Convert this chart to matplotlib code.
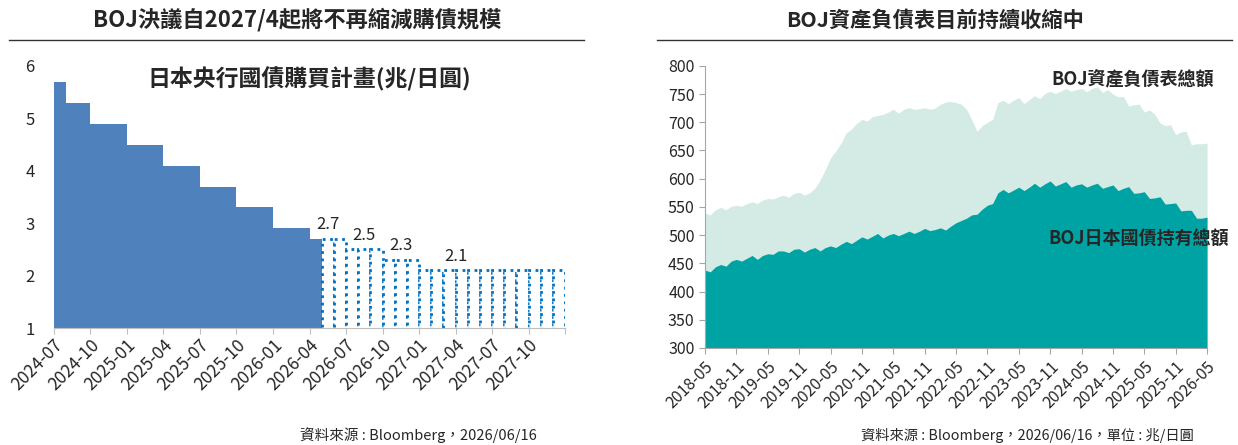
import matplotlib
matplotlib.use("Agg")
import matplotlib.pyplot as plt
import numpy as np

plt.rcParams['font.family'] = ['Noto Sans CJK TC', 'DejaVu Sans']

# ---- left chart data: BOJ monthly JGB purchase plan (trillion yen)
plan_values = ([5.7] + [5.3] * 2 + [4.9] * 3 + [4.5] * 3 + [4.1] * 3 + [3.7] * 3
               + [3.3] * 3 + [2.9] * 3 + [2.7] * 3 + [2.5] * 3 + [2.3] * 3 + [2.1] * 12)
n_actual = 22  # months already executed (solid bars)
plan_ticks = ['2024-07', '2024-10', '2025-01', '2025-04', '2025-07', '2025-10', '2026-01',
              '2026-04', '2026-07', '2026-10', '2027-01', '2027-04', '2027-07', '2027-10']
plan_labels = ['2.7', '2.5', '2.3', '2.1']
plan_label_pos = [22.5, 25.5, 28.5, 33]

# ---- right chart data: BOJ balance sheet vs JGB holdings (trillion yen), 2018-05 .. 2026-05
bs_total = [539, 536, 545, 549, 545, 551, 553, 551, 556, 559, 556, 562, 565, 564, 568, 571,
            567, 574, 576, 571, 575, 583, 598, 616, 637, 649, 663, 681, 688, 698, 705, 702,
            710, 712, 714, 718, 723, 716, 723, 726, 723, 724, 726, 723, 725, 732, 736, 737,
            735, 732, 723, 705, 684, 694, 700, 705, 735, 739, 733, 739, 744, 733, 740, 747,
            742, 751, 755, 751, 755, 760, 755, 758, 760, 754, 760, 763, 753, 758, 750, 745,
            746, 729, 731, 732, 718, 722, 714, 699, 694, 696, 678, 683, 684, 660, 662, 662, 663]
jgb_hold = [438, 435, 444, 448, 445, 454, 457, 454, 459, 464, 457, 464, 467, 466, 472, 472,
            469, 475, 476, 470, 475, 478, 472, 478, 481, 478, 484, 489, 485, 491, 497, 493,
            498, 503, 495, 500, 503, 499, 503, 507, 503, 507, 512, 508, 510, 513, 509, 516,
            522, 526, 530, 536, 537, 546, 553, 556, 575, 581, 575, 580, 585, 579, 585, 592,
            585, 591, 596, 587, 591, 595, 585, 589, 591, 585, 589, 592, 583, 586, 589, 579,
            583, 586, 574, 575, 577, 565, 566, 568, 555, 556, 557, 543, 544, 544, 530, 530, 532]
bs_ticks = ['2018-05', '2018-11', '2019-05', '2019-11', '2020-05', '2020-11', '2021-05',
            '2021-11', '2022-05', '2022-11', '2023-05', '2023-11', '2024-05', '2024-11',
            '2025-05', '2025-11', '2026-05']

text_c = '#262626'
axis_c = '#BFBFBF'

fig = plt.figure(figsize=(12.38, 4.45), dpi=100)

# panel titles and rules
fig.text(0.240, 0.955, 'BOJ決議自2027/4起將不再縮減購債規模', ha='center', va='center',
         fontsize=16, fontweight='bold', color=text_c)
fig.text(0.755, 0.955, 'BOJ資產負債表目前持續收縮中', ha='center', va='center',
         fontsize=15.3, fontweight='bold', color=text_c)
fig.add_artist(plt.Line2D([0.007, 0.472], [0.91, 0.91], color='#333333', lw=1))
fig.add_artist(plt.Line2D([0.531, 0.995], [0.91, 0.91], color='#333333', lw=1))

# ---- left chart
ax1 = fig.add_axes([0.0436, 0.2629, 0.4128, 0.5888])
months = np.arange(len(plan_values))
ax1.bar(months[:n_actual], plan_values[:n_actual], width=1.0, align='edge',
        color='#4F81BD', edgecolor='none')
ax1.bar(months[n_actual:], plan_values[n_actual:], width=1.0, align='edge',
        color='white', edgecolor='#0070C0', linestyle=':', linewidth=2)
for lab, xp in zip(plan_labels, plan_label_pos):
    ax1.annotate(lab, (xp, float(lab)), xytext=(0, 4), textcoords='offset points',
                 ha='center', va='bottom', fontsize=12, color=text_c)
ax1.text(21, 5.75, '日本央行國債購買計畫(兆/日圓)', ha='center', va='center',
         fontsize=16.5, fontweight='bold', color=text_c)
ax1.set_xlim(0, len(plan_values))
ax1.set_ylim(1, 6)
ax1.set_yticks(range(1, 7))
ax1.set_xticks(np.arange(0, len(plan_values) + 1, 3))
ax1.set_xticklabels(plan_ticks + [''], rotation=45, ha='right', rotation_mode='anchor')
ax1.tick_params(axis='x', colors=axis_c, labelcolor=text_c, labelsize=12.5, length=4, pad=2)
ax1.tick_params(axis='y', length=0, labelcolor=text_c, labelsize=12, pad=14)
for s in ['top', 'right', 'left']:
    ax1.spines[s].set_visible(False)
ax1.spines['bottom'].set_color(axis_c)
fig.text(0.338, 0.022, '資料來源 : Bloomberg，2026/06/16', ha='center', va='center',
         fontsize=10.5, color=text_c)

# ---- right chart
ax2 = fig.add_axes([0.5695, 0.218, 0.4055, 0.634])
x = np.arange(len(bs_total))
ax2.fill_between(x, 0, bs_total, color='#D3EBE4', lw=0)
ax2.fill_between(x, 0, jgb_hold, color='#00A3A3', lw=0)
ax2.set_xlim(0, len(bs_total) - 1)
ax2.set_ylim(300, 800)
ax2.set_yticks(range(300, 801, 50))
ax2.set_xticks(np.arange(0, len(bs_total), 6))
ax2.set_xticklabels(bs_ticks, rotation=45, ha='right', rotation_mode='anchor')
ax2.tick_params(axis='both', colors='#A6A6A6', labelcolor=text_c, labelsize=11.5, length=4)
for s in ['top', 'right']:
    ax2.spines[s].set_visible(False)
for s in ['left', 'bottom']:
    ax2.spines[s].set_color('#A6A6A6')
ax2.text(1.013, 0.955, 'BOJ資產負債表總額', transform=ax2.transAxes, ha='right', va='center',
         fontsize=13, fontweight='bold', color=text_c)
ax2.text(1.043, 0.39, 'BOJ日本國債持有總額', transform=ax2.transAxes, ha='right', va='center',
         fontsize=13, fontweight='bold', color=text_c)
fig.text(0.830, 0.022, '資料來源 : Bloomberg，2026/06/16，單位 : 兆/日圓', ha='center',
         va='center', fontsize=10.3, color=text_c)

fig.savefig('out.png', dpi=100)
